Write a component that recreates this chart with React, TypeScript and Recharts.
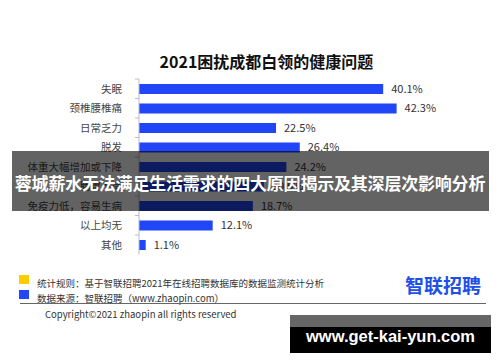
import { BarChart, Bar, XAxis, YAxis, LabelList } from 'recharts';

const categories = [
  '失眠',
  '颈椎腰椎痛',
  '日常乏力',
  '脱发',
  '体重大幅增加或下降',
  '肠胃不适',
  '免疫力低，容易生病',
  '以上均无',
  '其他',
];
const shares = [40.1, 42.3, 22.5, 26.4, 24.2, 20.5, 18.7, 12.1, 1.1];

const chartTitle = '2021困扰成都白领的健康问题';
const bannerText = '蓉城薪水无法满足生活需求的四大原因揭示及其深层次影响分析';
const noteRule = '统计规则：基于智联招聘2021年在线招聘数据库的数据监测统计分析';
const noteSource = '数据来源：智联招聘（www.zhaopin.com）';
const copyright = 'Copyright©2021 zhaopin all rights reserved';
const watermark = 'www.get-kai-yun.com';

const data = categories.map((name, i) => ({ name, value: shares[i] }));

const FONT = '"Noto Sans CJK SC", "Noto Sans", sans-serif';
const BLUE = '#2046f8';

// category label plus the little Excel-style tick at the top of each band
const CategoryTick = (props: any) => {
  const { x, y, payload } = props;
  return (
    <g>
      <line x1={135} x2={139} y1={y - 9.75} y2={y - 9.75} stroke="#b5bcd6" />
      <text x={x} y={y} dy={4} textAnchor="end" fontSize={10.5} fill="#444" fontFamily={FONT}>
        {payload.value}
      </text>
    </g>
  );
};

export default function App() {
  return (
    <div style={{ position: 'absolute', left: 0, top: 0, width: 500, height: 362, background: '#fff', overflow: 'hidden', fontFamily: FONT }}>
      <div style={{ position: 'absolute', left: 0, width: 533, top: 50, textAlign: 'center', fontSize: 16, fontWeight: 700, color: '#111', lineHeight: '22px' }}>
        {chartTitle}
      </div>
      <div style={{ position: 'absolute', left: 0, top: 0 }}>
        <BarChart
          width={500}
          height={362}
          data={data}
          layout="vertical"
          margin={{ top: 79, right: 56.5, left: 0, bottom: 107.5 }}
          barCategoryGap={0}
        >
          <XAxis type="number" domain={[0, 50]} hide />
          <YAxis
            type="category"
            dataKey="name"
            width={139}
            axisLine={{ stroke: '#b5bcd6' }}
            tickLine={false}
            tickMargin={11}
            interval={0}
            tick={<CategoryTick />}
          />
          <Bar dataKey="value" fill={BLUE} barSize={10} isAnimationActive={false}>
            <LabelList
              dataKey="value"
              position="right"
              offset={8}
              formatter={(v: any) => `${Number(v).toFixed(1)}%`}
              style={{ fontSize: 11, fill: '#333', fontFamily: FONT }}
            />
          </Bar>
        </BarChart>
      </div>

      {/* dark banner across the middle */}
      <div style={{ position: 'absolute', left: 12, top: 151, width: 477, height: 60, background: 'rgba(0,0,0,0.61)' }} />
      <div style={{ position: 'absolute', left: 0, width: 500, top: 171, textAlign: 'center', fontSize: 17, fontWeight: 700, color: '#fff', lineHeight: '24px', whiteSpace: 'nowrap', letterSpacing: -0.2 }}>
        {bannerText}
      </div>

      {/* footer notes */}
      <div style={{ position: 'absolute', left: 19, top: 275, width: 10, height: 9, background: '#ffcc00' }} />
      <div style={{ position: 'absolute', left: 19, top: 290, width: 10, height: 9, background: BLUE }} />
      <div style={{ position: 'absolute', left: 37, top: 276, fontSize: 9.5, color: '#333', lineHeight: '14px', whiteSpace: 'nowrap' }}>{noteRule}</div>
      <div style={{ position: 'absolute', left: 37, top: 291, fontSize: 9.5, color: '#333', lineHeight: '14px', whiteSpace: 'nowrap' }}>{noteSource}</div>
      <div style={{ position: 'absolute', left: 405, top: 272, fontSize: 19, fontWeight: 700, color: '#1e4fe6', lineHeight: '26px', whiteSpace: 'nowrap' }}>
        智联招聘
      </div>
      <div style={{ position: 'absolute', left: 20, top: 303, width: 466, height: 1, background: '#666' }} />
      <div style={{ position: 'absolute', left: 45, top: 307, fontSize: 9.5, color: '#333', lineHeight: '14px', whiteSpace: 'nowrap' }}>{copyright}</div>

      {/* watermark */}
      <div style={{ position: 'absolute', left: 290, top: 315, width: 201, height: 12, background: '#666' }} />
      <div style={{ position: 'absolute', left: 290, top: 327, width: 201, height: 26, background: '#000' }} />
      <div style={{ position: 'absolute', left: 290, top: 325, width: 201, textAlign: 'center', fontSize: 16.5, fontWeight: 700, color: '#fff', lineHeight: '22px', fontFamily: '"Liberation Sans", sans-serif', whiteSpace: 'nowrap' }}>
        {watermark}
      </div>
    </div>
  );
}
